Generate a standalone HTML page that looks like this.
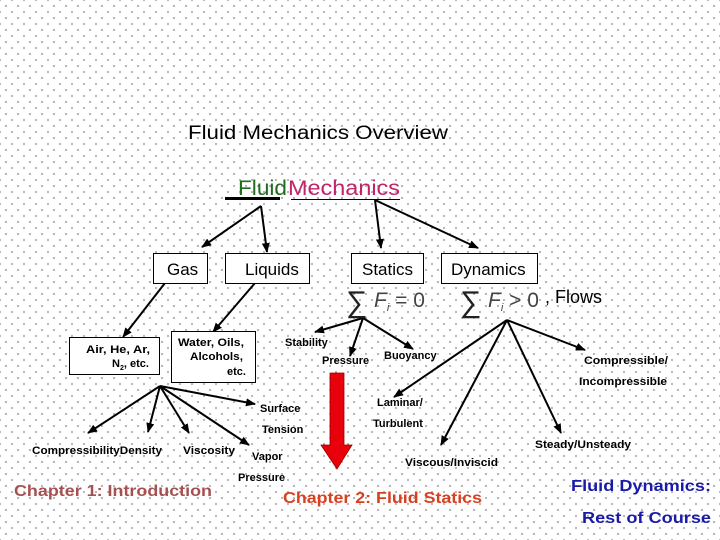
<!DOCTYPE html>
<html><head><meta charset="utf-8"><style>
html,body{margin:0;padding:0}
body{width:720px;height:540px;overflow:hidden;background-color:#fff;
background-image:radial-gradient(circle,#777 0.7px,transparent 0.9px),radial-gradient(circle,#777 0.7px,transparent 0.9px);
background-size:12px 12px,12px 12px;background-position:0 0,6px 6px;}
svg{position:absolute;left:0;top:0}
text{font-family:"Liberation Sans",Arial,sans-serif}
.s{font-size:11px;font-weight:bold;fill:#000}
</style></head><body>
<svg width="720" height="540" viewBox="0 0 720 540">
<defs><marker id="a" markerWidth="10" markerHeight="8" refX="9" refY="4" orient="auto" markerUnits="userSpaceOnUse"><path d="M0,0 L10,4 L0,8 Z" fill="#000"/></marker></defs>
<text x="188" y="139" font-size="19" fill="#000" textLength="260" lengthAdjust="spacingAndGlyphs">Fluid Mechanics Overview</text>
<text x="238" y="195" font-size="21" fill="#1e6e1e" textLength="49" lengthAdjust="spacingAndGlyphs">Fluid</text>
<text x="288" y="195" font-size="21" fill="#c0246a" textLength="112" lengthAdjust="spacingAndGlyphs">Mechanics</text>
<line x1="225" y1="198.5" x2="280" y2="198.5" stroke="#000" stroke-width="3"/>
<line x1="291" y1="199.5" x2="400" y2="199.5" stroke="#000" stroke-width="1"/>
<g stroke="#000" stroke-width="2" fill="none" marker-end="url(#a)">
<line x1="261" y1="206" x2="202" y2="247"/>
<line x1="261" y1="206" x2="267" y2="252"/>
<line x1="375" y1="200" x2="381" y2="248"/>
<line x1="375" y1="200" x2="478" y2="248"/>
<line x1="165" y1="283" x2="123" y2="337"/>
<line x1="255" y1="283" x2="213" y2="332"/>
<line x1="363" y1="318" x2="315" y2="332"/>
<line x1="363" y1="318" x2="350" y2="356"/>
<line x1="363" y1="318" x2="413" y2="349"/>
<line x1="160" y1="386" x2="88" y2="433"/>
<line x1="160" y1="386" x2="148" y2="432"/>
<line x1="160" y1="386" x2="189" y2="433"/>
<line x1="160" y1="386" x2="249" y2="445"/>
<line x1="160" y1="386" x2="255" y2="404"/>
<line x1="507" y1="320" x2="585" y2="350"/>
<line x1="507" y1="320" x2="394" y2="397"/>
<line x1="507" y1="320" x2="441" y2="445"/>
<line x1="507" y1="320" x2="561" y2="433"/>
</g>
<g fill="#fff" stroke="#000" stroke-width="1">
<rect x="153.5" y="253.5" width="54" height="30"/>
<rect x="225.5" y="253.5" width="84" height="30"/>
<rect x="351.5" y="253.5" width="72" height="30"/>
<rect x="441.5" y="253.5" width="96" height="30"/>
<rect x="69.5" y="337.5" width="90" height="37"/>
<rect x="171.5" y="331.5" width="84" height="51"/>
</g>
<text x="167" y="275" font-size="17">Gas</text>
<text x="245" y="275" font-size="17">Liquids</text>
<text x="362" y="275" font-size="17">Statics</text>
<text x="451" y="275" font-size="17">Dynamics</text>
<text x="346" y="312" font-size="30" fill="#222" font-family="Liberation Serif,serif">∑</text>
<text x="374" y="307" font-size="21" fill="#444" font-family="Liberation Serif,serif" font-style="italic">F<tspan font-size="11" dy="4">i</tspan><tspan dy="-4" font-style="normal"> = 0</tspan></text>
<text x="460" y="312" font-size="30" fill="#222" font-family="Liberation Serif,serif">∑</text>
<text x="488" y="307" font-size="21" fill="#444" font-family="Liberation Serif,serif" font-style="italic">F<tspan font-size="11" dy="4">i</tspan><tspan dy="-4" font-style="normal"> &gt; 0</tspan></text>
<text x="545" y="303" font-size="18">, Flows</text>
<text class="s" x="86" y="353" textLength="64" lengthAdjust="spacingAndGlyphs">Air, He, Ar,</text>
<text class="s" x="112" y="367">N<tspan font-size="7" dy="3">2</tspan><tspan dy="-3">, etc.</tspan></text>
<text class="s" x="178" y="346" textLength="66" lengthAdjust="spacingAndGlyphs">Water, Oils,</text>
<text class="s" x="190" y="360" textLength="53" lengthAdjust="spacingAndGlyphs">Alcohols,</text>
<text class="s" x="227" y="375">etc.</text>
<text class="s" x="285" y="346">Stability</text>
<text class="s" x="322" y="364">Pressure</text>
<text class="s" x="384" y="359">Buoyancy</text>
<text class="s" x="32" y="454" textLength="130" lengthAdjust="spacingAndGlyphs">CompressibilityDensity</text>
<text class="s" x="183" y="454" textLength="52" lengthAdjust="spacingAndGlyphs">Viscosity</text>
<text class="s" x="260" y="412">Surface</text>
<text class="s" x="262" y="433">Tension</text>
<text class="s" x="252" y="460">Vapor</text>
<text class="s" x="238" y="481">Pressure</text>
<text class="s" x="584" y="364" textLength="84" lengthAdjust="spacingAndGlyphs">Compressible/</text>
<text class="s" x="579" y="385" textLength="88" lengthAdjust="spacingAndGlyphs">Incompressible</text>
<text class="s" x="377" y="406">Laminar/</text>
<text class="s" x="373" y="427">Turbulent</text>
<text class="s" x="405" y="466" textLength="93" lengthAdjust="spacingAndGlyphs">Viscous/Inviscid</text>
<text class="s" x="535" y="448" textLength="96" lengthAdjust="spacingAndGlyphs">Steady/Unsteady</text>
<path d="M330,373 H344 V445 H352 L337,469 L321,445 H330 Z" fill="#e8000a" stroke="#900" stroke-width="0.8"/>
<text x="14" y="496" font-size="16" font-weight="bold" fill="#a85050" textLength="198" lengthAdjust="spacingAndGlyphs">Chapter 1: Introduction</text>
<text x="283" y="503" font-size="16" font-weight="bold" fill="#d84020" textLength="199" lengthAdjust="spacingAndGlyphs">Chapter 2: Fluid Statics</text>
<text x="571" y="491" font-size="16" font-weight="bold" fill="#1a1aa8" textLength="140" lengthAdjust="spacingAndGlyphs">Fluid Dynamics:</text>
<text x="582" y="523" font-size="16" font-weight="bold" fill="#1a1aa8" textLength="129" lengthAdjust="spacingAndGlyphs">Rest of Course</text>
</svg>
</body></html>
